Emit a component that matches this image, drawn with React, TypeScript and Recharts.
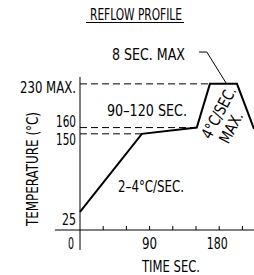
import React from 'react';
import { LineChart, Line, XAxis, YAxis, ReferenceLine } from 'recharts';

// Reflow profile (time in seconds, temperature in °C)
const times = [0, 80, 151, 168, 203, 225];
const temps = [25, 150, 160, 230, 230, 158];

const xTicks = [0, 30, 60, 90, 120, 150, 180, 210];
const xTickLabels = [0, 90, 180];

const yTicks = [25, 150, 160, 230];
const yTickLabels = ['25', '150', '160', '230 MAX.'];

const peakTemp = 230;
const soakEndTemp = 160;
const soakStartTemp = 150;
const peakStart = 168;
const soakEnd = 151;
const rampEnd = 80;

const data = times.map((t, i) => ({ t, temp: temps[i] }));

const FONT = "'Liberation Sans Narrow', 'DejaVu Sans Condensed', 'Liberation Sans', sans-serif";

const yLabelDy: Record<number, number> = { 230: 3, 160: -6.5, 150: 5.5, 25: 7.7 };
const yLabelLen: Record<number, number> = { 230: 56, 160: 20, 150: 20, 25: 14 };
const yLabelSize: Record<number, number> = { 230: 16, 160: 15, 150: 15, 25: 16 };
const xLabelDx: Record<number, number> = { 0: -9, 90: 0, 180: -2 };
const xLabelLen: Record<number, number> = { 0: 6, 90: 15, 180: 21 };

const XTick = (props: any) => {
  const { x, y, payload } = props;
  const v = payload.value as number;
  const show = xTickLabels.includes(v);
  return (
    <g>
      {v !== 0 && <line x1={x} x2={x} y1={y} y2={y - 4} stroke="#000" strokeWidth={1} />}
      {show && (
        <text
          x={x + (xLabelDx[v] || 0)}
          y={y + 19}
          textAnchor="middle"
          fontFamily={FONT}
          fontSize={16}
          fill="#000"
          textLength={xLabelLen[v]}
          lengthAdjust="spacingAndGlyphs"
        >
          {String(v)}
        </text>
      )}
    </g>
  );
};

const YTick = (props: any) => {
  const { x, y, payload } = props;
  const v = payload.value as number;
  const idx = yTicks.indexOf(v);
  const fs = yLabelSize[v] || 16;
  return (
    <text
      x={x}
      y={y + (yLabelDy[v] || 0) + fs * 0.365}
      textAnchor="end"
      fontFamily={FONT}
      fontSize={fs}
      fill="#000"
      textLength={yLabelLen[v]}
      lengthAdjust="spacingAndGlyphs"
    >
      {yTickLabels[idx]}
    </text>
  );
};

const T = (p: any) => (
  <text fontFamily={FONT} fontSize={16} fill="#000" lengthAdjust="spacingAndGlyphs" {...p} />
);

export default function App() {
  return (
    <div style={{ position: 'absolute', left: 0, top: 0, width: 254, height: 275, background: '#fff' }}>
      <LineChart width={254} height={275} data={data} margin={{ top: 77, right: 0, bottom: 0, left: 0 }}>
        <XAxis
          dataKey="t"
          type="number"
          domain={[0, 225]}
          ticks={xTicks}
          interval={0}
          height={45}
          tickSize={0}
          tickMargin={0}
          tickLine={false}
          axisLine={{ stroke: '#000', strokeWidth: 1 }}
          tick={(p: any) => <XTick {...p} />}
        />
        <YAxis
          type="number"
          domain={[-4, 241]}
          ticks={yTicks}
          interval={0}
          width={80}
          tickSize={0}
          tickMargin={4}
          tickLine={false}
          axisLine={{ stroke: '#000', strokeWidth: 1 }}
          tick={(p: any) => <YTick {...p} />}
        />
        {/* axis extensions */}
        <ReferenceLine segment={[{ x: -32.4, y: -4 }, { x: 0, y: -4 }]} stroke="#000" strokeWidth={1} ifOverflow="visible" />
        <ReferenceLine segment={[{ x: 0, y: -4 }, { x: 0, y: -36 }]} stroke="#000" strokeWidth={1} ifOverflow="visible" />
        {/* dashed guides */}
        <ReferenceLine segment={[{ x: 0, y: peakTemp }, { x: peakStart, y: peakTemp }]} stroke="#000" strokeWidth={1} strokeDasharray="7 4" ifOverflow="visible" />
        <ReferenceLine segment={[{ x: 0, y: soakEndTemp }, { x: soakEnd, y: soakEndTemp }]} stroke="#000" strokeWidth={1} strokeDasharray="7 4" ifOverflow="visible" />
        <ReferenceLine segment={[{ x: 0, y: soakStartTemp }, { x: rampEnd, y: soakStartTemp }]} stroke="#000" strokeWidth={1} strokeDasharray="7 4" ifOverflow="visible" />
        {/* leader for 8 SEC. MAX */}
        <ReferenceLine segment={[{ x: 154, y: 281 }, { x: 164, y: 281 }]} stroke="#000" strokeWidth={1} ifOverflow="visible" />
        <ReferenceLine segment={[{ x: 164, y: 281 }, { x: 189.6, y: 230 }]} stroke="#000" strokeWidth={1} ifOverflow="visible" />
        <Line
          type="linear"
          dataKey="temp"
          stroke="#000"
          strokeWidth={2}
          strokeLinejoin="miter"
          dot={false}
          activeDot={false}
          isAnimationActive={false}
        />
      </LineChart>
      <svg width={254} height={275} style={{ position: 'absolute', left: 0, top: 0, pointerEvents: 'none' }}>
        <T x={90} y={20} textLength={92}>REFLOW PROFILE</T>
        <line x1={86} x2={184} y1={22.5} y2={22.5} stroke="#000" strokeWidth={1} />
        <T x={112} y={60} textLength={73}>8 SEC. MAX</T>
        <T x={107} y={115.5} textLength={80}>90–120 SEC.</T>
        <T x={118} y={191.5} textLength={66}>2–4°C/SEC.</T>
        <T x={142} y={271.5} textLength={58}>TIME SEC.</T>
        <g transform="translate(37.5,169) rotate(-90)">
          <T x={0} y={0} textAnchor="middle" textLength={114}>TEMPERATURE (°C)</T>
        </g>
        <g transform="translate(218.5,112.5) rotate(-62)">
          <T x={0} y={5.8} textAnchor="middle" textLength={56}>4°C/SEC.</T>
        </g>
        <g transform="translate(230.8,127.5) rotate(-62)">
          <T x={0} y={5.8} textAnchor="middle" textLength={33}>MAX.</T>
        </g>
      </svg>
    </div>
  );
}
